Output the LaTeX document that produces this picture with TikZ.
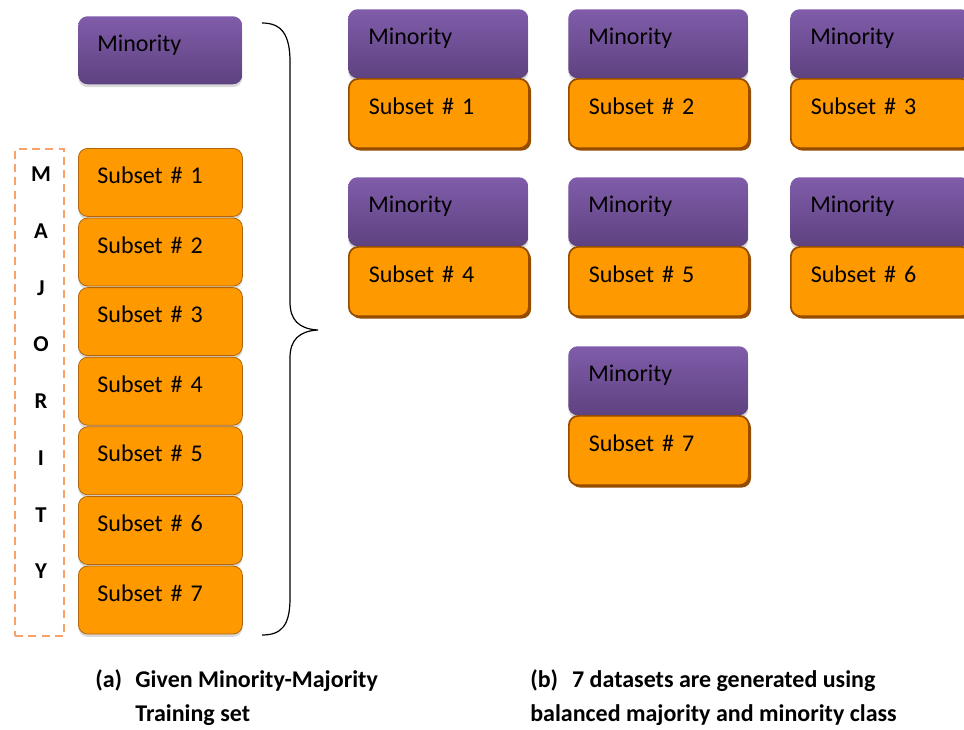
\documentclass[tikz,border=0pt]{standalone}
\usepackage{fontspec}
\setmainfont{Carlito}
\usetikzlibrary{shadows}

\definecolor{minTop}{RGB}{128,92,170}
\definecolor{minBot}{RGB}{94,66,128}
\definecolor{subOrange}{RGB}{255,153,0}
\definecolor{subEdge}{RGB}{176,100,12}
\definecolor{subEdgeDark}{RGB}{150,76,0}
\definecolor{dashOrange}{RGB}{248,162,104}

\tikzset{
  box/.style={rectangle, anchor=north west, rounded corners=7pt, align=left,
    text height=8pt, text depth=6.5pt, font=\fontsize{18}{21}\selectfont},
  leftbox/.style={box, inner xsep=14.25pt, minimum width=123pt, text width=94.5pt, minimum height=51pt},
  rightbox/.style={box, inner xsep=15pt, minimum width=135pt, text width=105pt},
  minority/.style={top color=minTop, bottom color=minBot,
    drop shadow={shadow xshift=0pt, shadow yshift=-2.2pt, fill=black!25, opacity=0.6}},
  subset/.style={fill=subOrange, draw=subEdge, line width=0.6pt,
    drop shadow={shadow xshift=0pt, shadow yshift=-2.2pt, fill=black!25, opacity=0.6}},
  subsetb/.style={fill=subOrange, draw=subEdgeDark, line width=1.3pt, minimum height=52pt,
    drop shadow={shadow xshift=1.6pt, shadow yshift=-1.8pt, fill=subEdgeDark, opacity=1}},
  letter/.style={font=\fontsize{17}{20}\selectfont\bfseries, inner sep=0.75pt},
  caption/.style={anchor=base west, inner sep=0pt, font=\fontsize{18}{25.5}\selectfont\bfseries}
}

\begin{document}
\begin{tikzpicture}[x=0.75pt,y=0.75pt,yscale=-1,xscale=1]
\useasboundingbox (0,0) rectangle (964,729);
\clip (0,0) rectangle (964,729);

% Given training set: minority class
\node [leftbox, minority] (lm) at (78,16) {Minority};

% Majority class split into subsets
\node [leftbox, subset] (ls1) at (78,148) {Subset \# 1};
\node [leftbox, subset] (ls2) at (78,217.6) {Subset \# 2};
\node [leftbox, subset] (ls3) at (78,287.2) {Subset \# 3};
\node [leftbox, subset] (ls4) at (78,356.8) {Subset \# 4};
\node [leftbox, subset] (ls5) at (78,426.4) {Subset \# 5};
\node [leftbox, subset] (ls6) at (78,496) {Subset \# 6};
\node [leftbox, subset] (ls7) at (78,565.6) {Subset \# 7};

% Dashed frame with vertical label
\node [anchor=north west, draw=dashOrange, line width=1.5pt, dash pattern=on 6pt off 4pt,
  minimum width=36.75pt, minimum height=365.25pt, inner sep=0pt] (majority) at (14,148) {};
\node [letter] (lM) at (41,174.5) {M};
\node [letter] (lA) at (41,231.2) {A};
\node [letter] (lJ) at (41,287.9) {J};
\node [letter] (lO) at (41,344.6) {O};
\node [letter] (lR) at (41,401.3) {R};
\node [letter] (lI) at (41,458) {I};
\node [letter] (lT) at (41,514.7) {T};
\node [letter] (lY) at (41,571.4) {Y};

% Curly brace
\draw [line width=0.9pt] (262,23) .. controls (282,23) and (290,35) .. (290,62) -- (290,302) .. controls (290,320) and (299,329) .. (318,330) .. controls (299,331) and (290,340) .. (290,358) -- (290,598) .. controls (290,625) and (282,635) .. (262,635) ;

% Balanced datasets, row 1
\node [rightbox, minority, minimum height=51.75pt] (rm1) at (348,9) {Minority};
\node [rightbox, subsetb] (rs1) at (348,78) {Subset \# 1};
\node [rightbox, minority, minimum height=51.75pt] (rm2) at (568,9) {Minority};
\node [rightbox, subsetb] (rs2) at (568,78) {Subset \# 2};
\node [rightbox, minority, minimum height=51.75pt] (rm3) at (790,9) {Minority};
\node [rightbox, subsetb] (rs3) at (790,78) {Subset \# 3};
% row 2
\node [rightbox, minority, minimum height=51.75pt] (rm4) at (348,177) {Minority};
\node [rightbox, subsetb] (rs4) at (348,246) {Subset \# 4};
\node [rightbox, minority, minimum height=51.75pt] (rm5) at (568,177) {Minority};
\node [rightbox, subsetb] (rs5) at (568,246) {Subset \# 5};
\node [rightbox, minority, minimum height=51.75pt] (rm6) at (790,177) {Minority};
\node [rightbox, subsetb] (rs6) at (790,246) {Subset \# 6};
% row 3
\node [rightbox, minority, minimum height=51.75pt] (rm7) at (568,346) {Minority};
\node [rightbox, subsetb] (rs7) at (568,415) {Subset \# 7};

% Captions
\node [caption] (capa) at (95,687) {\begin{tabular}[t]{@{}l@{\hspace{10pt}}l@{}}(a) & Given Minority-Majority\\ & Training set\end{tabular}};
\node [caption] (capb) at (530,687) {\begin{tabular}[t]{@{}l@{}}(b)\hspace{10.5pt}7 datasets are generated using\\balanced majority and minority class\end{tabular}};
\end{tikzpicture}
\end{document}
